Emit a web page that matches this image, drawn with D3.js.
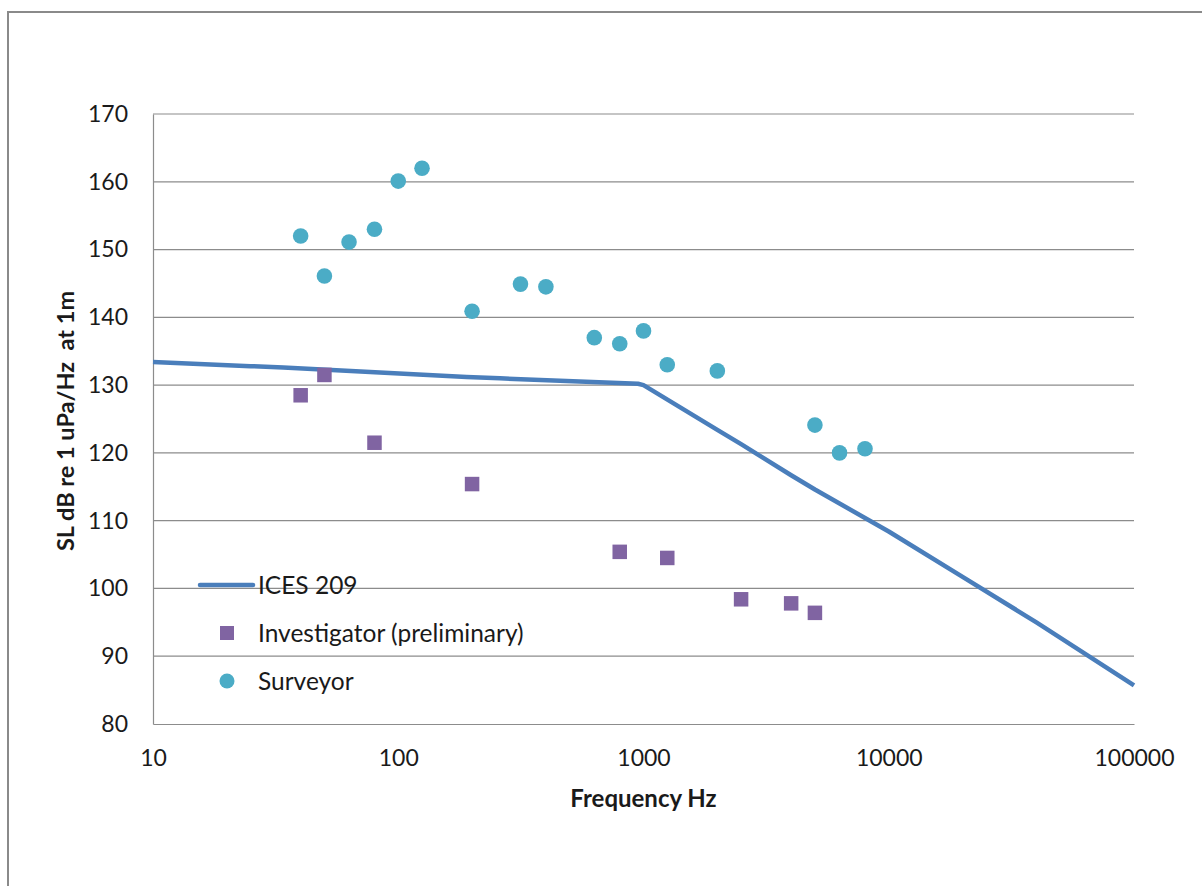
<!DOCTYPE html>
<html><head><meta charset="utf-8">
<script src="https://cdn.jsdelivr.net/npm/d3@7"></script>
<style>body{margin:0;background:#fff}text{font-family:Lato,"Open Sans",sans-serif}</style>
</head><body>
<svg id="c" width="1202" height="886"></svg>
<script>
const xTicks = [10, 100, 1000, 10000, 100000];
const yTicks = [80, 90, 100, 110, 120, 130, 140, 150, 160, 170];
const icesFreq = [10, 25, 34, 190, 260, 950, 1000, 2000, 2500, 4000, 5000, 10000, 20000, 40000, 100000];
const icesLevel = [133.4, 132.8, 132.6, 131.2, 131.0, 130.2, 130.0, 123.4, 121.3, 116.7, 114.6, 108.4, 101.7, 95.0, 85.7];
const invFreq = [40, 50, 80, 200, 800, 1250, 2500, 4000, 5000];
const invLevel = [128.5, 131.5, 121.5, 115.4, 105.4, 104.5, 98.4, 97.8, 96.4];
const surFreq = [40, 50, 63, 80, 100, 125, 200, 315, 400, 630, 800, 1000, 1250, 2000, 5000, 6300, 8000];
const surLevel = [152, 146.1, 151.1, 153, 160.1, 162, 140.9, 144.9, 144.5, 137, 136.1, 138, 133, 132.1, 124.1, 120, 120.6];
const legendNames = ["ICES 209", "Investigator (preliminary)", "Surveyor"];

const svg = d3.select("#c");
const L = 153, R = 1134, T = 114, B = 724;
const x = d3.scaleLog().domain([10, 100000]).range([L, R]);
const y = d3.scaleLinear().domain([80, 170]).range([B, T]);

// outer border (left + top)
svg.append("path").attr("d", `M8,886 L8,12 L1202,12`).attr("fill", "none").attr("stroke", "#8a8a8a").attr("stroke-width", 2);

// gridlines
svg.append("g").selectAll("line").data(yTicks.slice(1)).join("line")
  .attr("x1", L).attr("x2", R).attr("y1", d => y(d)).attr("y2", d => y(d))
  .attr("stroke", "#8c8c8c").attr("stroke-width", 1.2);

// axes
const yAxis = svg.append("g").attr("transform", `translate(${L},0)`)
  .call(d3.axisLeft(y).tickValues(yTicks).tickSize(0).tickPadding(25));
yAxis.select(".domain").attr("stroke", "#8c8c8c").attr("stroke-width", 1.2);
yAxis.selectAll("text").attr("font-size", 23).attr("fill", "#1a1a1a");

const xAxis = svg.append("g").attr("transform", `translate(0,${B})`)
  .call(d3.axisBottom(x).tickValues(xTicks).tickFormat(d3.format("d")).tickSize(0).tickPadding(26));
xAxis.select(".domain").attr("stroke", "#8c8c8c").attr("stroke-width", 1.2);
xAxis.selectAll("text").attr("font-size", 23).attr("fill", "#1a1a1a");

// titles
svg.append("text").attr("x", (L + R) / 2).attr("y", 807).attr("text-anchor", "middle")
  .attr("font-size", 24).attr("font-weight", "bold").attr("fill", "#1a1a1a").text("Frequency Hz");
svg.append("text").attr("transform", `translate(74,${421}) rotate(-90)`).attr("text-anchor", "middle")
  .attr("font-size", 23.5).attr("font-weight", "bold").attr("fill", "#1a1a1a")
  .style("white-space", "pre").text("SL dB re 1 uPa/Hz  at 1m");

// ICES line
const ices = icesFreq.map((f, i) => [f, icesLevel[i]]);
svg.append("path").datum(ices)
  .attr("d", d3.line().x(d => x(d[0])).y(d => y(d[1])))
  .attr("fill", "none").attr("stroke", "#4a7ebb").attr("stroke-width", 4.5).attr("stroke-linejoin", "round");

// Investigator squares
const s = 14.5;
svg.append("g").selectAll("rect").data(invFreq.map((f, i) => [f, invLevel[i]])).join("rect")
  .attr("x", d => x(d[0]) - s / 2).attr("y", d => y(d[1]) - s / 2).attr("width", s).attr("height", s)
  .attr("fill", "#8064a2");

// Surveyor circles
svg.append("g").selectAll("circle").data(surFreq.map((f, i) => [f, surLevel[i]])).join("circle")
  .attr("cx", d => x(d[0])).attr("cy", d => y(d[1])).attr("r", 7.8)
  .attr("fill", "#4bacc6");

// legend
const lg = svg.append("g");
lg.append("line").attr("x1", 200).attr("x2", 253).attr("y1", 585).attr("y2", 585)
  .attr("stroke", "#4a7ebb").attr("stroke-width", 4.5).attr("stroke-linecap", "round");
lg.append("rect").attr("x", 227 - 7).attr("y", 633 - 7).attr("width", 14).attr("height", 14).attr("fill", "#8064a2");
lg.append("circle").attr("cx", 227).attr("cy", 681).attr("r", 7.5).attr("fill", "#4bacc6");
lg.selectAll("text").data(legendNames).join("text")
  .attr("x", 258).attr("y", (d, i) => 585 + i * 48).attr("dy", "0.35em")
  .attr("font-size", 24.5).attr("fill", "#1a1a1a").text(d => d);
</script>
</body></html>
